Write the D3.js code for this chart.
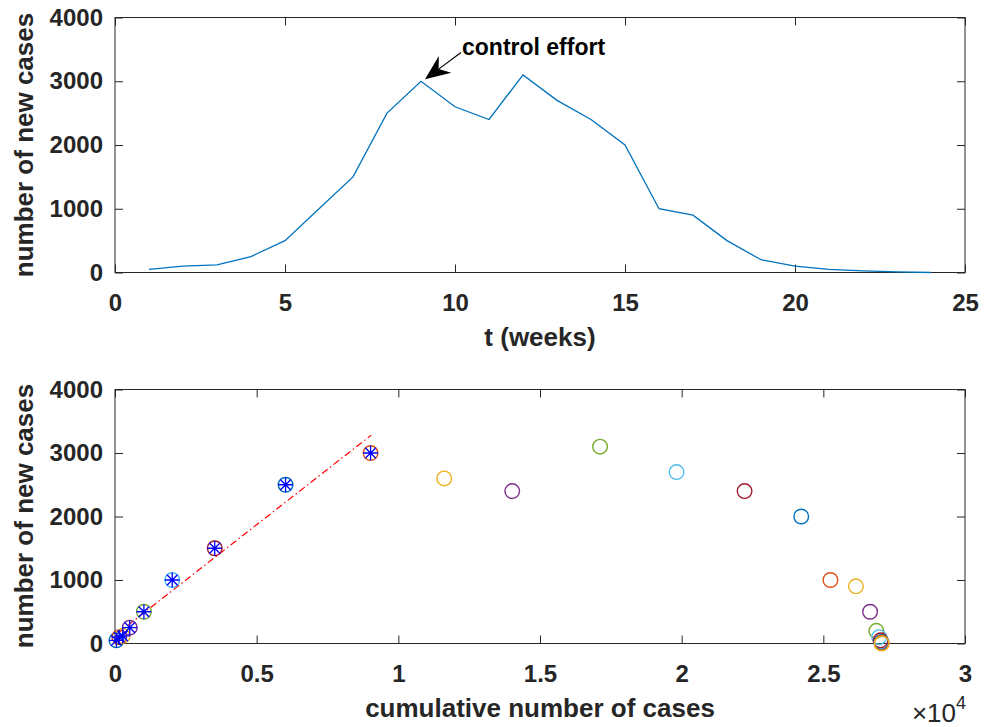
<!DOCTYPE html>
<html>
<head>
<meta charset="utf-8">
<script src="https://cdn.jsdelivr.net/npm/d3@7"></script>
<style>
  body { margin: 0; background: #fff; }
  text { font-family: "Liberation Sans", Arial, Helvetica, sans-serif; }
</style>
</head>
<body>
<script>
// weekly new cases
const weeks = [1,2,3,4,5,6,7,8,9,10,11,12,13,14,15,16,17,18,19,20,21,22,23,24]
const newCases = [50,100,120,250,500,1000,1500,2500,3000,2600,2400,3100,2700,2400,2000,1000,900,500,200,100,50,25,10,0]
// cumulative number of cases (x of lower plot)
const cumCases = [50,150,270,520,1020,2020,3520,6020,9020,11620,14020,17120,19820,22220,24220,25250,26150,26650,26870,26970,27020,27045,27055,27060]
// number of early points marked with *
const nStar = 9
// dash-dot fit line end points
const fitX = [50, 9040]
const fitY = [145, 3280]

const topXTicks = [0,5,10,15,20,25]
const yTicks = [0,1000,2000,3000,4000]
const botXTicks = [0,5000,10000,15000,20000,25000,30000]

const COLORS = ["#0072BD","#D95319","#EDB120","#7E2F8E","#77AC30","#4DBEEE","#A2142F"]
const AX = "#262626"

const m = { width: 984, height: 727 }

const svg = d3.select("body").append("svg")
    .attr("width", m.width)
    .attr("height", m.height)

svg.append("rect").attr("width", m.width).attr("height", m.height).attr("fill", "#fff")

function drawFrame(x, y, xTicks, fmt) {
  const g = svg.append("g")
  const [x0, x1] = x.range()
  const [y0, y1] = y.range()
  const tick = 8

  const axes = [
    g.append("g").attr("transform", `translate(0,${y0})`)
      .call(d3.axisBottom(x).tickValues(xTicks).tickSize(-tick).tickPadding(21).tickFormat(fmt)),
    g.append("g").attr("transform", `translate(0,${y1})`)
      .call(d3.axisTop(x).tickValues(xTicks).tickSize(-tick).tickFormat("")),
    g.append("g").attr("transform", `translate(${x0},0)`)
      .call(d3.axisLeft(y).tickValues(yTicks).tickSize(-tick).tickPadding(12).tickFormat(d3.format("d"))),
    g.append("g").attr("transform", `translate(${x1},0)`)
      .call(d3.axisRight(y).tickValues(yTicks).tickSize(-tick).tickFormat(""))
  ]
  axes.forEach(a => {
    a.select(".domain").remove()
    a.selectAll("line").attr("stroke", AX).attr("stroke-width", 1)
    a.selectAll("text")
      .attr("fill", AX)
      .style("font-size", "24px")
      .style("font-weight", "bold")
      .style("font-family", '"Liberation Sans", Arial, sans-serif')
  })
  // hide edge ticks overlapping the box
  g.append("rect")
    .attr("x", x0).attr("y", y1)
    .attr("width", x1 - x0).attr("height", y0 - y1)
    .attr("fill", "none").attr("stroke", AX).attr("stroke-width", 1)
  return g
}

function yLabel(cy) {
  svg.append("text")
    .attr("transform", `translate(33,${cy}) rotate(-90)`)
    .attr("text-anchor", "middle")
    .attr("fill", AX)
    .style("font-size", "26px")
    .style("font-weight", "bold")
    .text("number of new cases")
}

// ---------- top plot ----------
const x1 = d3.scaleLinear().domain([0, 25]).range([115, 965])
const y1 = d3.scaleLinear().domain([0, 4000]).range([272.5, 17.5])

drawFrame(x1, y1, topXTicks, d3.format("d"))

const line = d3.line()
  .x((d, i) => x1(weeks[i]))
  .y(d => y1(d))

svg.append("path")
  .datum(newCases)
  .attr("d", line)
  .attr("fill", "none")
  .attr("stroke", COLORS[0])
  .attr("stroke-width", 1.3)

svg.append("text")
  .attr("x", x1((540 - 115) / 34) + 0).attr("y", 55)
  .attr("x", 462)
  .attr("fill", "#000")
  .style("font-size", "23px")
  .style("font-weight", "bold")
  .text("control effort")

// arrow pointing at the first peak
const tip = [x1(weeks[8]) + 4, y1(newCases[8]) - 2]
const tail = [461, 52.5]
const dx = tail[0] - tip[0], dy = tail[1] - tip[1]
const len = Math.hypot(dx, dy)
const ux = dx / len, uy = dy / len
const px = -uy, py = ux
const hl = 25, hw = 10.5, nl = 17
svg.append("line")
  .attr("x1", tail[0]).attr("y1", tail[1])
  .attr("x2", tip[0] + ux * nl).attr("y2", tip[1] + uy * nl)
  .attr("stroke", "#000").attr("stroke-width", 1.2)
svg.append("path")
  .attr("d", `M${tip[0]},${tip[1]}` +
    `L${tip[0] + ux * hl + px * hw},${tip[1] + uy * hl + py * hw}` +
    `L${tip[0] + ux * nl},${tip[1] + uy * nl}` +
    `L${tip[0] + ux * hl - px * hw},${tip[1] + uy * hl - py * hw}Z`)
  .attr("fill", "#000")

svg.append("text")
  .attr("x", 540).attr("y", 346)
  .attr("text-anchor", "middle")
  .attr("fill", AX)
  .style("font-size", "26px")
  .style("font-weight", "bold")
  .text("t (weeks)")

yLabel(145)

// ---------- bottom plot ----------
const x2 = d3.scaleLinear().domain([0, 30000]).range([115, 965])
const y2 = d3.scaleLinear().domain([0, 4000]).range([643.5, 389.5])

drawFrame(x2, y2, botXTicks, d => d / 1e4)

svg.append("line")
  .attr("x1", x2(fitX[0])).attr("y1", y2(fitY[0]))
  .attr("x2", x2(fitX[1])).attr("y2", y2(fitY[1]))
  .attr("stroke", "#FF0000")
  .attr("stroke-width", 1.2)
  .attr("stroke-dasharray", "7,3,1.5,3")

const pts = cumCases.map((c, i) => ({ x: c, y: newCases[i], i: i }))

svg.append("g").selectAll("circle")
  .data(pts)
  .enter()
  .append("circle")
    .attr("cx", d => x2(d.x))
    .attr("cy", d => y2(d.y))
    .attr("r", 7.3)
    .attr("fill", "none")
    .attr("stroke", d => COLORS[d.i % COLORS.length])
    .attr("stroke-width", 1.4)

const r = 7.5, rd = r * Math.SQRT1_2
svg.append("g").selectAll("path")
  .data(pts.slice(0, nStar))
  .enter()
  .append("path")
    .attr("transform", d => `translate(${x2(d.x)},${y2(d.y)})`)
    .attr("d", `M${-r},0H${r}M0,${-r}V${r}M${-rd},${-rd}L${rd},${rd}M${-rd},${rd}L${rd},${-rd}`)
    .attr("fill", "none")
    .attr("stroke", "#0000FF")
    .attr("stroke-width", 1.3)

svg.append("text")
  .attr("x", 540).attr("y", 716.5)
  .attr("text-anchor", "middle")
  .attr("fill", AX)
  .style("font-size", "26px")
  .style("font-weight", "bold")
  .text("cumulative number of cases")

const ex = svg.append("text")
  .attr("x", 966).attr("y", 722)
  .attr("text-anchor", "end")
  .attr("fill", AX)
  .style("font-size", "26px")
ex.append("tspan").text("\u00d710")
ex.append("tspan").attr("dy", -13).style("font-size", "18px").text("4")

yLabel(516)
</script>
</body>
</html>
